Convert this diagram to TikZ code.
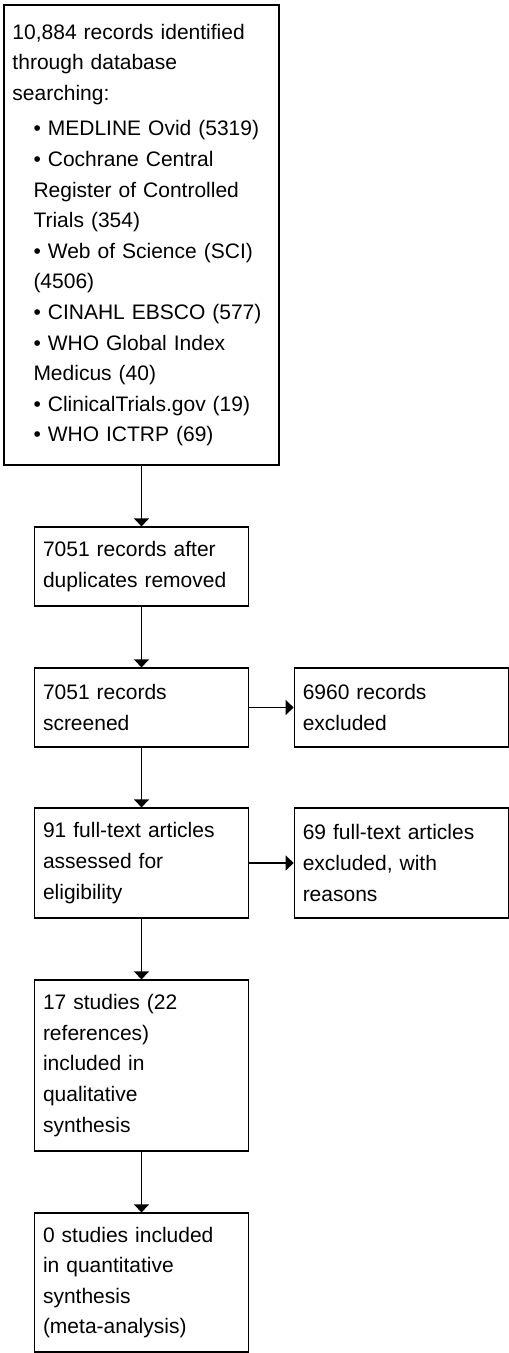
\documentclass[tikz,border=0pt]{standalone}
\usepackage{fontspec}
\setmainfont{Liberation Sans}
\usetikzlibrary{arrows.meta}
\begin{document}
\begin{tikzpicture}[x=1pt,y=-1pt,
  box/.style={draw=black, line width=1.2pt, rectangle, inner xsep=8.5pt, inner ysep=0pt,
    align=left, font=\fontsize{21}{30.6}\selectfont},
  narrow/.style={box, text width=197pt, minimum width=214pt},
  flow/.style={line width=1.2pt, -{Triangle[length=8pt,width=15pt]}}
]
\useasboundingbox (0,0) rectangle (509,1353);
\node[box, text width=258pt, minimum width=275pt, minimum height=460pt] (search) at (141.5,235)
 {10,884 records identified\\
  through database\\
  searching:\\[5pt]
  \hspace*{21pt}• MEDLINE Ovid (5319)\\
  \hspace*{21pt}• Cochrane Central\\
  \hspace*{21pt}Register of Controlled\\
  \hspace*{21pt}Trials (354)\\
  \hspace*{21pt}• Web of Science (SCI)\\
  \hspace*{21pt}(4506)\\
  \hspace*{21pt}• CINAHL EBSCO (577)\\
  \hspace*{21pt}• WHO Global Index\\
  \hspace*{21pt}Medicus (40)\\
  \hspace*{21pt}• ClinicalTrials.gov (19)\\
  \hspace*{21pt}• WHO ICTRP (69)};
\node[narrow, minimum height=79pt] (dup) at (141.5,566.5)
 {7051 records after\\duplicates removed};
\node[narrow, minimum height=79pt] (screen) at (141.5,707.5)
 {7051 records\\screened};
\node[narrow, minimum height=79pt] (excl) at (401.25,707.5)
 {6960 records\\excluded};
\node[narrow, minimum height=110pt] (full) at (141.5,863)
 {91 full-text articles\\assessed for\\eligibility};
\node[narrow, minimum height=110pt] (fullex) at (401.25,863)
 {69 full-text articles\\excluded, with\\reasons};
\node[narrow, minimum height=171pt] (qual) at (141.5,1065.5)
 {17 studies (22\\references)\\included in\\qualitative\\synthesis};
\node[narrow, minimum height=139pt] (meta) at (141.5,1282.5)
 {0 studies included\\in quantitative\\synthesis\\(meta-analysis)};
\draw[flow] (search) -- (dup);
\draw[flow] (dup) -- (screen);
\draw[flow] (screen) -- (excl);
\draw[flow] (screen) -- (full);
\draw[flow] (full) -- (fullex);
\draw[flow] (full) -- (qual);
\draw[flow] (qual) -- (meta);
\end{tikzpicture}
\end{document}
